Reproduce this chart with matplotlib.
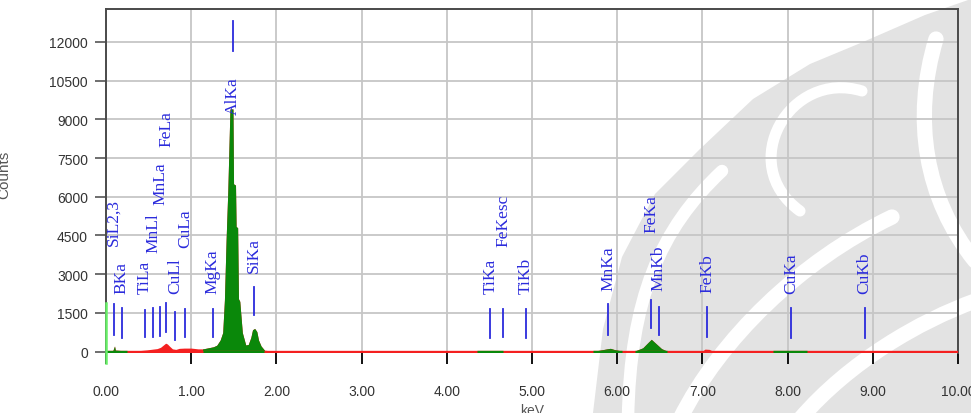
import numpy as np
import matplotlib

matplotlib.use("Agg")
import matplotlib.pyplot as plt
from matplotlib.patches import PathPatch, Polygon, Rectangle
from matplotlib.path import Path
from matplotlib.transforms import Affine2D

# EDS spectrum (energy in keV, counts per channel)
energy_kev = [
    0.00, 0.03, 0.08, 0.10, 0.11, 0.20, 0.30, 0.40, 0.48, 0.55, 0.60, 0.64,
    0.67, 0.70, 0.72, 0.75, 0.78, 0.82, 0.86, 0.92, 1.00, 1.08, 1.14, 1.20,
    1.26, 1.30, 1.34, 1.37, 1.39, 1.41, 1.43, 1.455, 1.49, 1.497, 1.52,
    1.527, 1.545, 1.555, 1.57, 1.60, 1.64, 1.67, 1.70, 1.72, 1.745, 1.77,
    1.79, 1.82, 1.86, 1.95, 3.00, 5.72, 5.80, 5.88, 5.92, 5.97, 6.06, 6.21,
    6.30, 6.36, 6.40, 6.45, 6.52, 6.58, 7.00, 7.03, 7.08, 7.12, 10.00,
]
counts = [
    0, 30, 40, 220, 60, 40, 40, 45, 70, 100, 120, 170,
    250, 330, 300, 200, 110, 90, 130, 140, 140, 110, 110, 150,
    190, 250, 450, 740, 2000, 4350, 6250, 9400, 9400, 6500, 6450,
    4850, 4800, 2050, 1950, 740, 260, 280, 550, 850, 900, 780,
    450, 220, 60, 25, 20, 20, 60, 110, 130, 80, 25, 30,
    150, 350, 480, 330, 120, 30, 25, 100, 90, 25, 20,
]

# regions of interest drawn in green, the rest of the spectrum in red
roi_start = [0.00, 1.14, 4.35, 5.72, 6.21, 7.83]
roi_end = [0.25, 1.86, 4.66, 6.06, 6.58, 8.23]

# identified lines: name, energy
line_names = [
    "SiL2,3", "BKa", "TiLa", "MnLl", "MnLa", "FeLa", "CuLl", "CuLa", "MgKa",
    "AlKa", "SiKa", "TiKa", "FeKesc", "TiKb", "MnKa", "FeKa", "MnKb", "FeKb",
    "CuKa", "CuKb",
]
line_kev = [
    0.092, 0.183, 0.452, 0.556, 0.637, 0.705, 0.811, 0.930, 1.254,
    1.486, 1.740, 4.510, 4.660, 4.931, 5.894, 6.398, 6.490, 7.057,
    8.040, 8.904,
]
# marker layout in count units: bar bottom, bar top, label start
bar_lo = [660, 540, 580, 580, 600, 780, 470, 560, 560,
          11650, 1440, 540, 560, 540, 660, 930, 660, 580, 540, 540]
bar_hi = [1830, 1710, 1630, 1680, 1720, 1900, 1550, 1650, 1650,
          12810, 2520, 1670, 1670, 1650, 1830, 2020, 1750, 1750, 1710, 1710]
label_y = [4150, 2290, 2290, 3880, 5710, 7960, 2290, 4040, 2290,
           9200, 3100, 2290, 4080, 2290, 2400, 4620, 2400, 2330, 2290, 2290]

W, H = 971, 414
RED = "#f42020"
GREEN = "#0a880a"
BLUE = "#2b2bdc"

fig = plt.figure(figsize=(W / 100, H / 100), dpi=100)

# pixel coordinates (y down) -> figure coordinates
px = Affine2D().scale(1 / W, -1 / H).translate(0, 1) + fig.transFigure


def swoosh(pts, lw, color="white"):
    codes = [Path.MOVETO] + [Path.CURVE4] * (len(pts) - 1)
    fig.add_artist(PathPatch(Path(pts, codes), transform=px, fill=False,
                             lw=lw, ec=color, capstyle="round", zorder=-2))


# background logo
wm_grey = "#e3e3e3"
fig.add_artist(Polygon(
    [(593, 414), (603, 330), (622, 258), (655, 195), (700, 150), (753, 100),
     (810, 65), (863, 43), (925, 16), (971, 0), (971, 414)],
    closed=True, transform=px, fc=wm_grey, ec="none", zorder=-3))
swoosh([(628, 420), (630, 300), (660, 230), (722, 172)], 9)
swoosh([(862, 92), (790, 70), (735, 165), (800, 212)], 8)
swoosh([(936, 40), (912, 120), (925, 200), (975, 262)], 11)
swoosh([(680, 420), (720, 340), (800, 262), (892, 218)], 11)
swoosh([(800, 420), (850, 362), (920, 322), (975, 302)], 11)

ax = fig.add_axes([106 / W, (H - 354) / H, (958 - 106) / W, (354 - 10) / H])
ax.patch.set_alpha(0)

E = np.array(energy_kev)
C = np.array(counts)

ax.fill_between(E, C, color=RED, lw=0, zorder=3)
ax.axhline(0, color=RED, lw=2.4, zorder=4)
for a, b in zip(roi_start, roi_end):
    clip = Rectangle((a, -1000), b - a, 20000, transform=ax.transData)
    g = ax.fill_between(E, C, color=GREEN, lw=0, zorder=3)
    g.set_clip_path(clip)
    ax.plot([a, b], [0, 0], color=GREEN, lw=2.4, zorder=4, solid_capstyle="butt")

# detector zero marker
ax.plot([0, 0], [-420, 1900], color="#66ee66", lw=1.8, zorder=5, clip_on=False)

for name, e, lo, hi, ty in zip(line_names, line_kev, bar_lo, bar_hi, label_y):
    ax.plot([e, e], [lo, hi], color=BLUE, lw=1.3, zorder=6)
    ax.text(e, ty, name, rotation=90, ha="center", va="bottom", color=BLUE,
            fontsize=12.5, family="Liberation Serif", zorder=7)

ax.set_xlim(0, 10)
ax.set_ylim(-50, 13270)
ax.set_xticks(np.arange(0, 11, 1))
ax.set_xticklabels([f"{v:.2f}" for v in range(11)])
ax.set_yticks(np.arange(0, 12001, 1500))
ax.grid(True, color="#c6c6c6", lw=1.3, zorder=0)
ax.set_axisbelow(True)

for side in ("left", "top", "right"):
    ax.spines[side].set_color("#4a4a4a")
    ax.spines[side].set_linewidth(1.4)
ax.spines["bottom"].set_visible(False)

ax.tick_params(axis="x", direction="out", length=8, width=1.4, color="#111111",
               pad=14, labelsize=10, labelcolor="#333333")
ax.tick_params(axis="y", direction="out", length=8, width=1.2, color="#555555",
               pad=5, labelsize=10, labelcolor="#333333")
for lbl in ax.get_xticklabels() + ax.get_yticklabels():
    lbl.set_family("Liberation Sans")

fig.text(4 / W, 1 - 175 / H, "Counts", rotation=90, ha="center", va="center",
         fontsize=11, color="#555555", family="Liberation Sans")
fig.text(532 / W, 1 - 404 / H, "keV", ha="center", va="top",
         fontsize=10, color="#555555", family="Liberation Sans")

fig.savefig("out.png", dpi=100)
